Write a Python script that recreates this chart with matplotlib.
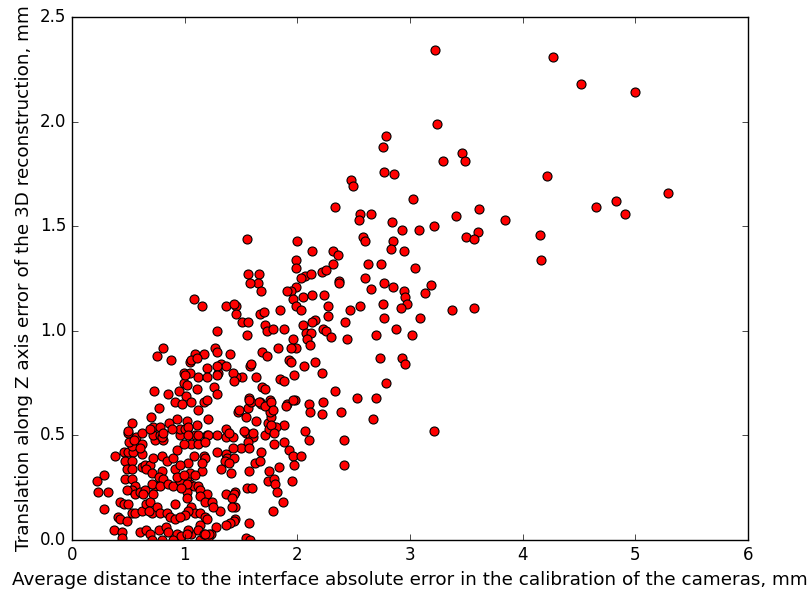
import matplotlib
matplotlib.use('Agg')
import matplotlib.pyplot as plt

plt.style.use('classic')

# sparse upper / right part
x_top = [3.22, 4.27, 4.52, 5.00, 3.24, 3.29, 3.46, 3.49, 4.22, 5.29, 4.83, 4.65, 4.91,
         3.84, 3.61, 3.41, 4.15, 3.60, 3.50, 3.57, 4.16, 3.03, 3.21, 3.08, 2.93, 3.37,
         3.57, 3.19, 3.13, 3.09, 3.02, 3.21, 3.04, 2.79, 2.76, 2.77, 2.86, 2.48, 2.49,
         2.33, 2.56, 2.65, 2.55, 2.84, 2.58, 2.60, 2.85, 2.83, 2.95, 1.55, 2.00, 2.13,
         2.32, 2.36, 1.99, 1.99, 2.32, 2.63, 2.74, 2.22, 2.25, 1.56, 1.66, 2.07, 2.12,
         2.03, 2.37, 2.60, 1.99, 1.94, 1.91, 1.96, 1.99, 2.03, 2.05, 2.13, 2.24, 2.37,
         2.65, 2.77, 2.85, 2.95, 2.96, 2.97, 2.92, 2.76, 2.77, 2.56, 2.47, 2.27, 2.27,
         2.16, 2.13, 2.05, 2.42, 2.23, 2.25, 2.08, 2.12, 2.09, 2.30, 2.44, 2.70, 2.88,
         1.96, 2.11, 1.99, 1.94, 1.83, 1.88, 1.85, 1.67, 1.70, 1.51, 1.56, 1.46, 1.46,
         1.37, 1.71, 1.73, 1.78, 1.55, 1.69, 1.73, 1.58, 1.51, 1.63, 1.85, 1.88, 1.97,
         1.93, 1.94, 2.06, 2.16, 2.22, 2.33, 2.53, 2.70, 2.79, 2.73, 2.93, 2.96, 1.69,
         1.71, 1.57, 1.67, 1.76, 1.98, 2.10, 2.23, 1.91, 1.46, 1.65, 1.58, 1.68, 1.08,
         1.15, 1.44, 1.29]
y_top = [2.34, 2.31, 2.18, 2.14, 1.99, 1.81, 1.85, 1.81, 1.74, 1.66, 1.62, 1.59, 1.56,
         1.53, 1.58, 1.55, 1.46, 1.47, 1.45, 1.44, 1.34, 1.63, 1.50, 1.48, 1.48, 1.10,
         1.11, 1.22, 1.18, 1.06, 0.98, 0.52, 1.30, 1.93, 1.88, 1.76, 1.75, 1.72, 1.69,
         1.59, 1.56, 1.56, 1.53, 1.52, 1.45, 1.43, 1.43, 1.39, 1.38, 1.44, 1.43, 1.38,
         1.38, 1.36, 1.34, 1.30, 1.32, 1.32, 1.32, 1.28, 1.29, 1.27, 1.27, 1.26, 1.27,
         1.25, 1.24, 1.25, 1.21, 1.19, 1.19, 1.15, 1.12, 1.10, 1.16, 1.17, 1.17, 1.23,
         1.20, 1.23, 1.21, 1.19, 1.16, 1.13, 1.11, 1.13, 1.06, 1.12, 1.10, 1.12, 1.07,
         1.05, 1.04, 1.03, 1.04, 1.01, 1.00, 0.99, 0.99, 0.96, 0.97, 0.96, 0.98, 1.01,
         0.96, 0.93, 0.92, 0.92, 0.92, 1.01, 1.10, 1.08, 1.09, 1.04, 1.04, 1.12, 1.08,
         1.12, 1.03, 1.00, 1.01, 0.98, 0.90, 0.88, 0.83, 0.78, 0.78, 0.77, 0.76, 0.79,
         0.86, 0.85, 0.83, 0.85, 0.80, 0.71, 0.68, 0.68, 0.75, 0.87, 0.87, 0.84, 0.73,
         0.72, 0.68, 0.66, 0.67, 0.67, 0.65, 0.66, 0.65, 0.78, 1.23, 1.23, 1.19, 1.15,
         1.12, 1.13, 1.00]

# middle band, x around 1.0 - 2.7
x_mid = [1.90, 2.11, 2.22, 2.39, 2.67, 2.41, 2.41, 2.07, 2.10, 1.88, 1.88, 1.79, 1.71,
         1.74, 1.75, 1.81, 1.77, 1.76, 1.76, 1.63, 1.54, 1.47, 1.56, 1.68, 1.59, 1.54,
         1.58, 1.61, 1.56, 1.50, 1.68, 1.62, 1.67, 1.93, 1.96, 2.03, 1.97, 1.84, 1.75,
         1.57, 1.74, 1.79, 1.80, 1.95, 1.55, 1.60, 1.82, 1.87, 1.78, 1.57, 1.45, 1.54,
         1.58, 1.45, 1.45, 1.06, 1.12, 1.09, 1.20, 1.29, 1.37, 1.43, 1.43, 1.57, 1.08,
         1.17, 1.18, 1.37, 1.38, 1.44, 1.36, 1.32, 1.41, 1.15, 1.37, 1.44, 1.42, 1.42,
         1.44, 1.40, 1.37, 1.31, 1.28, 1.23, 1.21, 1.14, 1.06, 1.05, 1.08, 1.12, 1.14,
         1.20, 1.14, 1.18, 1.24, 1.25, 1.06, 1.09, 1.14, 1.18, 1.20, 1.14, 1.12, 1.03,
         1.17, 1.22, 1.02, 1.05, 1.09, 1.02, 1.02, 1.03, 1.00, 1.15, 1.03]
y_mid = [0.64, 0.61, 0.60, 0.61, 0.58, 0.48, 0.36, 0.52, 0.48, 0.55, 0.47, 0.46, 0.50,
         0.56, 0.53, 0.54, 0.59, 0.61, 0.65, 0.57, 0.59, 0.61, 0.63, 0.65, 0.66, 0.51,
         0.50, 0.49, 0.47, 0.44, 0.42, 0.37, 0.38, 0.43, 0.40, 0.40, 0.36, 0.35, 0.33,
         0.33, 0.28, 0.29, 0.27, 0.28, 0.25, 0.25, 0.23, 0.18, 0.14, 0.08, 0.10, 0.01,
         0.00, 0.23, 0.16, 0.46, 0.46, 0.50, 0.50, 0.50, 0.49, 0.49, 0.44, 0.44, 0.40,
         0.40, 0.39, 0.41, 0.39, 0.39, 0.38, 0.34, 0.32, 0.33, 0.22, 0.22, 0.20, 0.16,
         0.09, 0.08, 0.07, 0.14, 0.06, 0.03, 0.01, 0.00, 0.03, 0.27, 0.26, 0.26, 0.24,
         0.22, 0.21, 0.18, 0.18, 0.16, 0.16, 0.13, 0.13, 0.11, 0.10, 0.07, 0.05, 0.05,
         0.03, 0.03, 0.30, 0.32, 0.31, 0.23, 0.20, 0.14, 0.12, 0.37, 0.37]

# dense lower-left cluster
x_low = [0.38, 0.28, 0.22, 0.23, 0.32, 0.28, 0.37, 0.44, 0.46, 0.50, 0.54, 0.53, 0.62,
         0.51, 0.57, 0.50, 0.62, 0.47, 0.53, 0.62, 0.60, 0.49, 0.53, 0.62, 0.65, 0.69,
         0.47, 0.53, 0.56, 0.53, 0.49, 0.56, 0.60, 0.66, 0.71, 0.80, 0.77, 0.81, 0.74,
         0.71, 0.78, 0.72, 0.65, 0.63, 0.85, 0.90, 0.96, 1.02, 0.97, 0.72, 0.80, 0.84,
         0.90, 0.93, 0.99, 0.96, 0.74, 0.81, 0.72, 0.43, 0.46, 0.50, 0.41, 0.43, 0.49,
         0.53, 0.56, 0.62, 0.66, 0.69, 0.71, 0.68, 0.75, 0.78, 0.84, 0.91, 0.87, 0.91,
         0.96, 0.60, 0.66, 0.69, 0.77, 0.83, 0.85, 0.93, 0.97, 1.02, 0.71, 0.80, 0.90,
         0.91, 0.96, 0.93, 0.99, 0.78, 0.44, 0.55, 0.80]
y_low = [0.40, 0.31, 0.28, 0.23, 0.23, 0.15, 0.05, 0.04, 0.42, 0.42, 0.42, 0.45, 0.46,
         0.47, 0.49, 0.51, 0.51, 0.38, 0.38, 0.41, 0.44, 0.34, 0.34, 0.35, 0.36, 0.36,
         0.29, 0.29, 0.26, 0.24, 0.24, 0.22, 0.23, 0.34, 0.32, 0.33, 0.30, 0.29, 0.26,
         0.27, 0.26, 0.22, 0.24, 0.22, 0.27, 0.26, 0.28, 0.27, 0.25, 0.39, 0.40, 0.38,
         0.39, 0.43, 0.46, 0.50, 0.48, 0.48, 0.50, 0.18, 0.17, 0.17, 0.11, 0.10, 0.09,
         0.13, 0.13, 0.14, 0.17, 0.18, 0.13, 0.14, 0.16, 0.13, 0.13, 0.17, 0.11, 0.10,
         0.11, 0.04, 0.05, 0.03, 0.05, 0.06, 0.04, 0.03, 0.02, 0.03, 0.00, 0.00, 0.00,
         0.34, 0.36, 0.30, 0.31, 0.50, 0.01, 0.48, 0.49]

# upper part of the cluster, y around 0.5 - 0.95
x_upc = [0.81, 0.75, 0.88, 0.99, 1.05, 0.99, 0.73, 0.85, 0.95, 1.01, 0.91, 0.98, 0.77,
         0.70, 0.53, 0.50, 0.72, 0.78, 0.86, 0.93, 0.96, 1.02, 0.69, 0.81, 0.89, 1.02,
         1.09, 1.17, 1.27, 1.29, 1.40, 1.06, 1.11, 1.32, 1.37, 1.20, 1.30, 1.12, 1.20,
         1.05, 1.00, 1.43, 1.44, 1.59, 1.26, 1.29, 1.11, 1.02, 1.06, 1.17, 1.20, 1.12,
         1.21, 1.11, 1.00, 1.03, 1.48, 1.57, 1.66, 1.71, 1.77, 1.78, 1.77, 1.96, 1.37,
         1.39, 1.53, 1.61, 1.79, 1.21, 1.12, 1.03, 1.29, 1.29, 1.18, 1.29, 1.39, 1.18]
y_upc = [0.92, 0.88, 0.86, 0.80, 0.85, 0.75, 0.71, 0.70, 0.71, 0.69, 0.66, 0.65, 0.63,
         0.59, 0.56, 0.52, 0.54, 0.54, 0.56, 0.58, 0.53, 0.53, 0.53, 0.51, 0.53, 0.57,
         0.89, 0.89, 0.92, 0.90, 0.89, 0.86, 0.87, 0.84, 0.83, 0.82, 0.80, 0.78, 0.78,
         0.80, 0.79, 0.80, 0.76, 0.84, 0.73, 0.70, 0.72, 0.74, 0.66, 0.66, 0.67, 0.62,
         0.58, 0.55, 0.53, 0.54, 0.62, 0.67, 0.66, 0.64, 0.66, 0.62, 0.55, 0.67, 0.53,
         0.51, 0.52, 0.51, 0.51, 0.50, 0.50, 0.50, 0.83, 0.79, 0.47, 0.42, 0.37, 0.03]

x = x_top + x_mid + x_low + x_upc
y = y_top + y_mid + y_low + y_upc

fig = plt.figure(figsize=(8.09, 5.94), dpi=100)
ax = fig.add_axes([0.089, 0.0909, 0.8356, 0.8805])
ax.plot(x, y, 'o', color='red', markeredgecolor='black', markersize=6.5,
        markeredgewidth=0.8)
ax.set_xlim(0, 6)
ax.set_ylim(0, 2.5)
ax.set_xlabel('Average distance to the interface absolute error in the calibration of the cameras, mm',
              fontsize=13.2)
ax.set_ylabel('Translation along Z axis error of the 3D reconstruction, mm', fontsize=13.2)
fig.savefig('out.png', dpi=100, facecolor='white')
